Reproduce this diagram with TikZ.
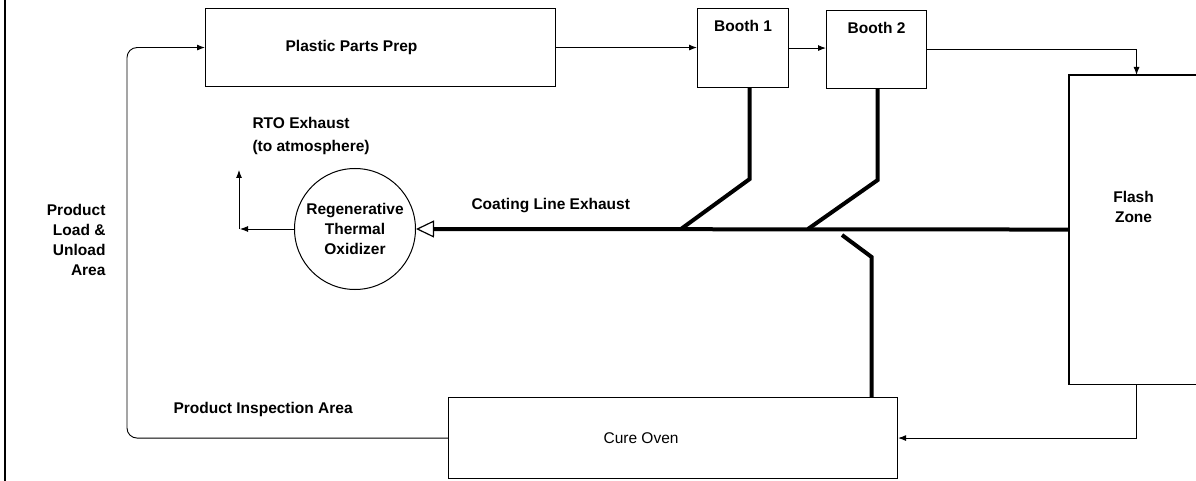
\documentclass[tikz,border=0pt]{standalone}
\usepackage{fontspec}
\setmainfont{Liberation Sans}
\usetikzlibrary{arrows.meta}

\begin{document}
\begin{tikzpicture}[x=1pt, y=-1pt,
    every node/.style={font=\fontsize{15.5}{20}\selectfont\bfseries},
    unit/.style={draw, line width=1.1pt, inner sep=0pt, anchor=north west},
    flow/.style={line width=0.9pt, -{Latex[length=8pt,width=6pt]}},
    duct/.style={line width=4pt},
  ]
  \useasboundingbox (0,0) rectangle (1196,481);
  % --- process line ---------------------------------------------------------
  \node[unit, minimum width=350pt, minimum height=78pt,
        label={[xshift=-29pt]center:Plastic Parts Prep}] (prep) at (205,8) {};
  \node[unit, minimum width=91pt, minimum height=79pt,
        label={[anchor=north, yshift=-9pt]north:Booth 1}] (b1) at (697,8) {};
  \node[unit, minimum width=100pt, minimum height=78pt,
        label={[anchor=north, yshift=-9pt]north:Booth 2}] (b2) at (826,10) {};
  \node[unit, draw=none, minimum width=134pt, minimum height=308pt,
        label={[align=center, xshift=-3pt, yshift=23pt]center:Flash\\Zone}] (flash) at (1069,75) {};
  \draw[line width=1.1pt] (flash.north east) -- (flash.north west)
       -- (flash.south west) -- (flash.south east);
  \node[unit, minimum width=449pt, minimum height=81pt,
        label={[xshift=-32pt, font=\fontsize{15.5}{20}\selectfont]center:Cure Oven}] (cure) at (448,397) {};
  \node[circle, draw, line width=1pt, minimum size=121pt, inner sep=0pt, align=center]
       (rto) at (355,229) {Regenerative\\Thermal\\Oxidizer};
  \coordinate (loop) at (127,240);
  \draw[flow, rounded corners=10pt] (cure.west) -| (loop) |- (prep.west);
  \draw[flow] (prep.east) -- (prep.east -| b1.west);
  \draw[flow] (b1.east) -- (b1.east -| b2.west);
  \draw[flow] (b2.east) -| (flash.north);
  \draw[flow] (flash.south) |- (cure.east);
  % --- exhaust ducts ---------------------------------------------------------
  \coordinate (j1) at (681,229);
  \coordinate (j2) at (808,229);
  \coordinate (j3) at (842,235);
  \draw[duct, -{Triangle[open, length=18pt, width=17pt, line width=1.2pt]}]
       (flash.west) -- (rto.east);
  \draw[duct] ([xshift=6.5pt]b1.south) -- ++(0,91) -- (j1);
  \draw[duct] ([xshift=1pt]b2.south) -- ++(0,91) -- (j2);
  \draw[duct] ([xshift=198.5pt]cure.north) -- ++(0,-140) -- (j3);
  \coordinate (vent) at (239,229);
  \coordinate (atm) at (239,170);
  \draw[flow] (rto.west) -- ([xshift=1pt]vent);
  \draw[flow] (vent) -- (atm);
  % --- labels ----------------------------------------------------------------
  \node[align=left, anchor=west] (rtoex) at (249,136) {RTO Exhaust\\[3pt](to atmosphere)};
  \node[align=right, anchor=east] (load) at (109,240) {Product\\Load \&\\Unload\\Area};
  \node[anchor=west] (insp) at (170,409) {Product Inspection Area};
  \node[anchor=west] (coat) at (468,206) {Coating Line Exhaust};
  \draw[line width=1.5pt] (5,0) -- (5,481);
\end{tikzpicture}
\end{document}
